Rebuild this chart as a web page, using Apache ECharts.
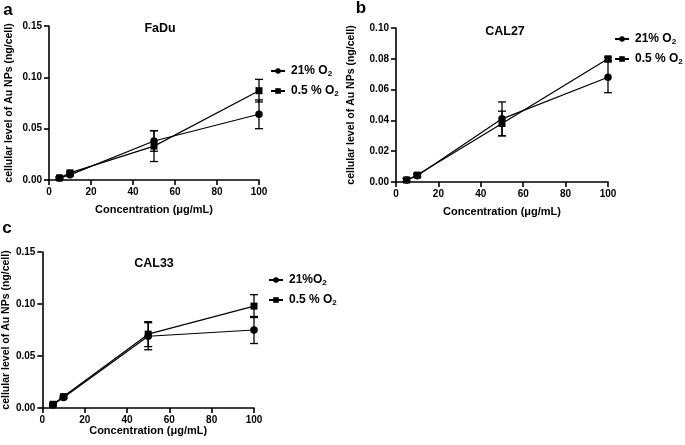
<!DOCTYPE html>
<html><head><meta charset="utf-8">
<script src="https://cdn.jsdelivr.net/npm/echarts@6/dist/echarts.min.js"></script>
<style>html,body{margin:0;padding:0;background:#fff}#c{width:685px;height:445px}</style>
</head><body><div id="c"></div>
<script>
// ---- data ----
const concentrations = [5, 10, 50, 100];
const panelTitles = ['FaDu', 'CAL27', 'CAL33'];
const panelLetters = ['a', 'b', 'c'];
const seriesNames = [['21% O2', '0.5 % O2'], ['21% O2', '0.5 % O2'], ['21%O2', '0.5 % O2']];
const fadu21 = [0.002, 0.005, 0.038, 0.064];
const fadu21Err = [0.001, 0.001, 0.010, 0.014];
const fadu05 = [0.002, 0.007, 0.033, 0.087];
const fadu05Err = [0.001, 0.001, 0.015, 0.011];
const cal27_21 = [0.0013, 0.004, 0.041, 0.068];
const cal27_21Err = [0.001, 0.001, 0.011, 0.010];
const cal27_05 = [0.0013, 0.0045, 0.038, 0.080];
const cal27_05Err = [0.001, 0.001, 0.008, 0.001];
const cal33_21 = [0.003, 0.010, 0.069, 0.075];
const cal33_21Err = [0.001, 0.001, 0.013, 0.013];
const cal33_05 = [0.0036, 0.011, 0.071, 0.098];
const cal33_05Err = [0.001, 0.001, 0.012, 0.011];
const yMax = [0.15, 0.10, 0.15];
const yInterval = [0.05, 0.02, 0.05];
const xMin = 0, xMax = 100, xInterval = 20;

const panels = [
  [[fadu21, fadu21Err], [fadu05, fadu05Err]],
  [[cal27_21, cal27_21Err], [cal27_05, cal27_05Err]],
  [[cal33_21, cal33_21Err], [cal33_05, cal33_05Err]]
];

const FONT = "'Liberation Sans', Arial, Helvetica, sans-serif";
const grids = [
  {left: 49, top: 26, width: 210, height: 154},
  {left: 396, top: 28, width: 212, height: 154},
  {left: 40, top: 252, width: 214, height: 156}
];
const yNameGap = [34, 39, 27];
const xNameGap = [24, 24, 16];
const legendPos = [{left: 270, top: 65}, {left: 614, top: 33}, {left: 268, top: 274}];
const titlePos = [{x: 155, y: 25}, {x: 500, y: 28}, {x: 149, y: 260}];
const letterPos = [{x: 8, y: 10}, {x: 361, y: 8}, {x: 7, y: 228}];

const axisCommon = {
  axisLine: {show: true, onZero: false, lineStyle: {color: '#000', width: 1.6}},
  axisTick: {show: true, inside: false, length: 5, lineStyle: {color: '#000', width: 1.6}},
  splitLine: {show: false},
  axisLabel: {color: '#000', fontFamily: FONT, fontWeight: 'bold', fontSize: 10},
  nameTextStyle: {color: '#000', fontFamily: FONT, fontWeight: 'bold'}
};

function errRender(params, api) {
  const x = api.value(0), y = api.value(1), e = api.value(2);
  const top = api.coord([x, y + e]);
  const bot = api.coord([x, y - e]);
  const hw = 4;
  const st = {stroke: '#000', lineWidth: 1.3};
  return {type: 'group', children: [
    {type: 'line', shape: {x1: top[0], y1: top[1], x2: bot[0], y2: bot[1]}, style: st},
    {type: 'line', shape: {x1: top[0] - hw, y1: top[1], x2: top[0] + hw, y2: top[1]}, style: st},
    {type: 'line', shape: {x1: bot[0] - hw, y1: bot[1], x2: bot[0] + hw, y2: bot[1]}, style: st}
  ]};
}

const xAxes = [], yAxes = [], series = [], legends = [], titles = [], graphics = [];
const symbols = ['circle', 'rect'];
panels.forEach((panel, i) => {
  xAxes.push(Object.assign({}, axisCommon, {
    type: 'value', gridIndex: i, min: xMin, max: xMax, interval: xInterval,
    name: 'Concentration (\u03BCg/mL)', nameLocation: 'middle', nameGap: xNameGap[i],
    nameTextStyle: Object.assign({}, axisCommon.nameTextStyle, {fontSize: 11}),
    axisLabel: Object.assign({}, axisCommon.axisLabel, {margin: 7})
  }));
  yAxes.push(Object.assign({}, axisCommon, {
    type: 'value', gridIndex: i, min: 0, max: yMax[i], interval: yInterval[i],
    name: 'cellular level of Au NPs (ng/cell)', nameLocation: 'middle', nameGap: yNameGap[i],
    nameTextStyle: Object.assign({}, axisCommon.nameTextStyle, {fontSize: 10.5}),
    axisLabel: Object.assign({}, axisCommon.axisLabel, {margin: 7, formatter: v => v.toFixed(2)})
  }));
  panel.forEach(([vals, errs], k) => {
    series.push({
      type: 'custom', xAxisIndex: i, yAxisIndex: i, renderItem: errRender,
      data: concentrations.map((c, j) => [c, vals[j], errs[j]]),
      encode: {x: 0, y: 1}, z: 2, silent: true
    });
  });
  panel.forEach(([vals, errs], k) => {
    series.push({
      type: 'line', name: seriesNames[i][k], xAxisIndex: i, yAxisIndex: i,
      data: concentrations.map((c, j) => [c, vals[j]]),
      symbol: symbols[k], symbolSize: k === 0 ? 7.5 : 7,
      lineStyle: {color: '#000', width: 1.2},
      itemStyle: {color: '#000'}, z: 3
    });
  });
  legends.push({
    orient: 'vertical', left: legendPos[i].left, top: legendPos[i].top, padding: 0,
    data: seriesNames[i], itemWidth: 14, itemHeight: 7, itemGap: 7,
    formatter: name => {
      const base = name.slice(0, -1);
      return '{t|' + base + '}{s|2}';
    },
    textStyle: {
      rich: {
        t: {color: '#000', fontFamily: FONT, fontWeight: 'bold', fontSize: 12, padding: [0, 0, 0, 1]},
        s: {color: '#000', fontFamily: FONT, fontWeight: 'bold', fontSize: 8, padding: [6, 0, 0, 0]}
      }
    }
  });
  titles.push({
    text: panelTitles[i], left: titlePos[i].x, top: titlePos[i].y - 8, textAlign: 'center',
    textStyle: {color: '#000', fontFamily: FONT, fontWeight: 'bold', fontSize: 12.5}
  });
  graphics.push({
    type: 'text', x: letterPos[i].x, y: letterPos[i].y,
    style: {text: panelLetters[i], fill: '#000', font: 'bold 17px ' + FONT, textAlign: 'center', textVerticalAlign: 'middle'}
  });
});

const chart = echarts.init(document.getElementById('c'), null, {renderer: 'canvas'});
chart.setOption({
  animation: false,
  backgroundColor: '#fff',
  title: titles,
  legend: legends,
  grid: grids,
  xAxis: xAxes,
  yAxis: yAxes,
  series: series,
  graphic: graphics
});
</script></body></html>
